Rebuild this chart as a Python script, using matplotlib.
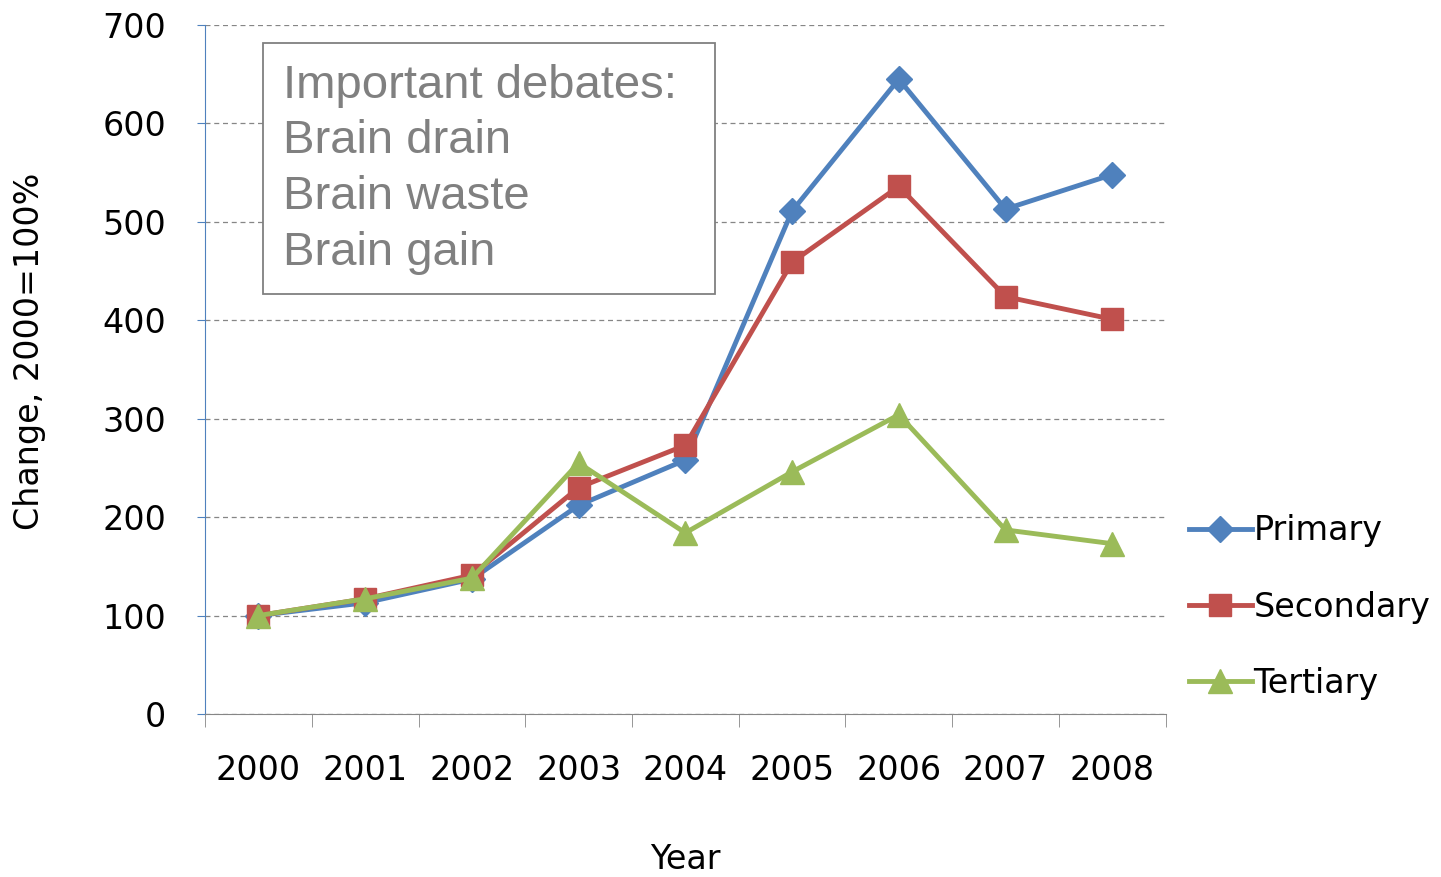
import matplotlib.pyplot as plt
from matplotlib.patches import Rectangle
import numpy as np

years = ["2000", "2001", "2002", "2003", "2004", "2005", "2006", "2007", "2008"]
primary = [100, 113, 137, 212, 258, 511, 645, 513, 548]
secondary = [100, 117, 141, 230, 273, 459, 536, 424, 401]
tertiary = [100, 117, 138, 255, 184, 246, 304, 187, 173]
box_lines = ["Important debates:", "Brain drain", "Brain waste", "Brain gain"]

plt.rcParams["font.family"] = "DejaVu Sans"

fig = plt.figure(figsize=(14.41, 8.77), dpi=100)
ax = fig.add_axes([0.1423, 0.1859, 0.6666, 0.7856])

x = np.arange(len(years))
ax.plot(x, primary, color="#4F81BD", lw=3.5, marker="D", ms=13, label="Primary")
ax.plot(x, secondary, color="#C0504D", lw=3.5, marker="s", ms=16, label="Secondary")
ax.plot(x, tertiary, color="#9BBB59", lw=3.5, marker="^", ms=17, label="Tertiary")

ax.set_xlim(-0.5, len(years) - 0.5)
ax.set_ylim(0, 700)
ax.set_yticks(range(0, 701, 100))
ax.set_xticks(x)
ax.set_xticklabels(years)
ax.set_xticks(np.arange(-0.5, len(years)), minor=True)
ax.tick_params(axis="x", which="major", length=0, pad=29, labelsize=24)
ax.tick_params(axis="x", which="minor", length=9, direction="out", color="#868686")
ax.tick_params(axis="y", length=6, direction="out", color="#4F81BD", pad=22, labelsize=24)

ax.grid(axis="y", color="#868686", linestyle=(0, (4, 3)), lw=0.9)
ax.set_axisbelow(True)
for s in ["top", "right"]:
    ax.spines[s].set_visible(False)
ax.spines["left"].set_color("#4F81BD")
ax.spines["bottom"].set_color("#868686")

ax.set_xlabel("Year", fontsize=24, labelpad=40)
ax.set_ylabel("Change, 2000=100%", fontsize=24)
ax.yaxis.set_label_coords(-0.166, 0.527)

# text box (frame drawn separately, Excel-style padding)
ax.add_patch(Rectangle((0.0604, 0.6096), 0.4703, 0.3643, transform=ax.transAxes,
                       fc="white", ec="#808080", lw=1.3, zorder=5))
ax.text(0.0812, 0.944, "\n".join(box_lines), transform=ax.transAxes, va="top", ha="left",
        fontsize=34, color="#808080", family="Liberation Sans", linespacing=1.35, zorder=6)

ax.legend(loc="center left", bbox_to_anchor=(1.01, 0.155), frameon=False, fontsize=24,
          handlelength=1.9, handletextpad=0.05, labelspacing=1.3, borderaxespad=0)

fig.savefig("out.png", dpi=100)
